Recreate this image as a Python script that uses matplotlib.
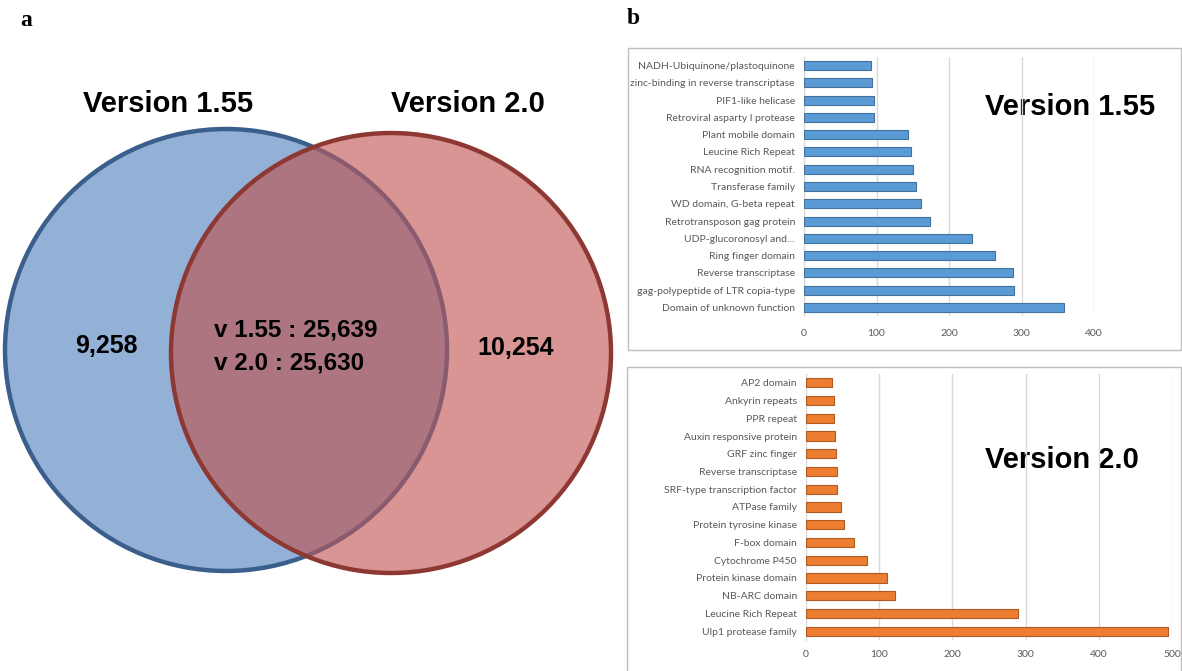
import matplotlib
matplotlib.use("Agg")
import matplotlib.pyplot as plt
from matplotlib.patches import Circle, Rectangle

# venn counts
only_v155 = 9258
only_v20 = 10254
shared_v155 = 25639
shared_v20 = 25630

# top domains, version 1.55 (top to bottom)
dom_v155 = ["NADH-Ubiquinone/plastoquinone", "zinc-binding in reverse transcriptase",
            "PIF1-like helicase", "Retroviral asparty l protease", "Plant mobile domain",
            "Leucine Rich Repeat", "RNA recognition motif.", "Transferase family",
            "WD domain, G-beta repeat", "Retrotransposon gag protein", "UDP-glucoronosyl and...",
            "Ring finger domain", "Reverse transcriptase", "gag-polypeptide of LTR copia-type",
            "Domain of unknown function"]
cnt_v155 = [93, 94, 97, 97, 144, 148, 151, 154, 162, 174, 232, 264, 288, 290, 359]

# top domains, version 2.0 (top to bottom)
dom_v20 = ["AP2 domain", "Ankyrin repeats", "PPR repeat", "Auxin responsive protein",
           "GRF zinc finger", "Reverse transcriptase", "SRF-type transcription factor",
           "ATPase family", "Protein tyrosine kinase", "F-box domain", "Cytochrome P450",
           "Protein kinase domain", "NB-ARC domain", "Leucine Rich Repeat",
           "Ulp1 protease family"]
cnt_v20 = [36, 38, 38, 40, 41, 42, 43, 48, 52, 66, 84, 110, 121, 289, 494]

W, H = 1182, 671
fig = plt.figure(figsize=(W / 100, H / 100), dpi=100)

# background layer in pixel units
bg = fig.add_axes([0, 0, 1, 1], zorder=0)
bg.set_xlim(0, W)
bg.set_ylim(H, 0)
bg.axis("off")

blue_fill, blue_edge = "#93B1D6", "#3B5F8C"
red_fill, red_edge = "#D99494", "#8E3833"
mix_fill, mix_edge = "#AD7580", "#8A5B6F"

c1 = (226, 350, 221)
c2 = (391, 353, 220)

bg.add_patch(Circle(c1[:2], c1[2], facecolor=blue_fill, edgecolor=blue_edge, lw=3.2))
right = Circle(c2[:2], c2[2], facecolor=red_fill, edgecolor="none")
bg.add_patch(right)
mix = Circle(c1[:2], c1[2], facecolor=mix_fill, edgecolor=mix_edge, lw=3.2)
bg.add_patch(mix)
mix.set_clip_path(right)
bg.add_patch(Circle(c2[:2], c2[2], facecolor="none", edgecolor=red_edge, lw=3.2))

arial = "Liberation Sans"
bg.text(168, 104, "Version 1.55", family=arial, weight="bold", fontsize=21,
        ha="center", va="center")
bg.text(468, 104, "Version 2.0", family=arial, weight="bold", fontsize=21,
        ha="center", va="center")
bg.text(106, 346, f"{only_v155:,}", family=arial, weight="bold", fontsize=18,
        ha="center", va="center")
bg.text(516, 348, f"{only_v20:,}", family=arial, weight="bold", fontsize=18,
        ha="center", va="center")
bg.text(214, 330, f"v 1.55 : {shared_v155:,}", family=arial, weight="bold",
        fontsize=17.5, ha="left", va="center")
bg.text(214, 363, f"v 2.0 : {shared_v20:,}", family=arial, weight="bold",
        fontsize=17.5, ha="left", va="center")

bg.text(20, 20, "a", family="Liberation Serif", weight="bold", fontsize=17,
        ha="left", va="center")
bg.text(627, 18, "b", family="Liberation Serif", weight="bold", fontsize=17,
        ha="left", va="center")

# chart frames
bg.add_patch(Rectangle((628, 48), 553, 302, facecolor="white", edgecolor="#BFBFBF", lw=1))
bg.add_patch(Rectangle((627, 367), 554, 310, facecolor="white", edgecolor="#BFBFBF", lw=1))
bg.text(985, 107, "Version 1.55", family=arial, weight="bold", fontsize=21,
        ha="left", va="center")
bg.text(985, 460, "Version 2.0", family=arial, weight="bold", fontsize=21,
        ha="left", va="center")


def bar_panel(rect, names, vals, color, edge, xmax, pad):
    ax = fig.add_axes(rect, zorder=2)
    ax.patch.set_alpha(0)
    y = range(len(names))
    ax.barh(y, vals, height=0.52, color=color, edgecolor=edge, lw=0.8, zorder=3)
    ax.set_ylim(len(names) - 0.5, -0.5)
    ax.set_xlim(0, xmax)
    ax.set_yticks(list(y))
    ax.set_yticklabels(names)
    ax.set_xticks(range(0, xmax + 1, 100))
    ax.grid(axis="x", color="#D9D9D9", lw=1, zorder=0)
    for s in ["top", "right", "bottom"]:
        ax.spines[s].set_visible(False)
    ax.spines["left"].set_color("#D9D9D9")
    ax.tick_params(length=0, labelsize=7.5, labelcolor="#595959")
    ax.tick_params(axis="y", pad=6.5)
    ax.tick_params(axis="x", pad=pad)
    for t in ax.get_xticklabels() + ax.get_yticklabels():
        t.set_family("Lato")
    return ax


bar_panel([804 / W, 1 - 316 / H, 290 / W, 259 / H], dom_v155, cnt_v155,
          "#5B9BD5", "#41719C", 400, 9)
bar_panel([806 / W, 1 - 640 / H, 366 / W, 266 / H], dom_v20, cnt_v20,
          "#ED7D31", "#AE5A21", 500, 7)

fig.savefig("out.png", dpi=100)
